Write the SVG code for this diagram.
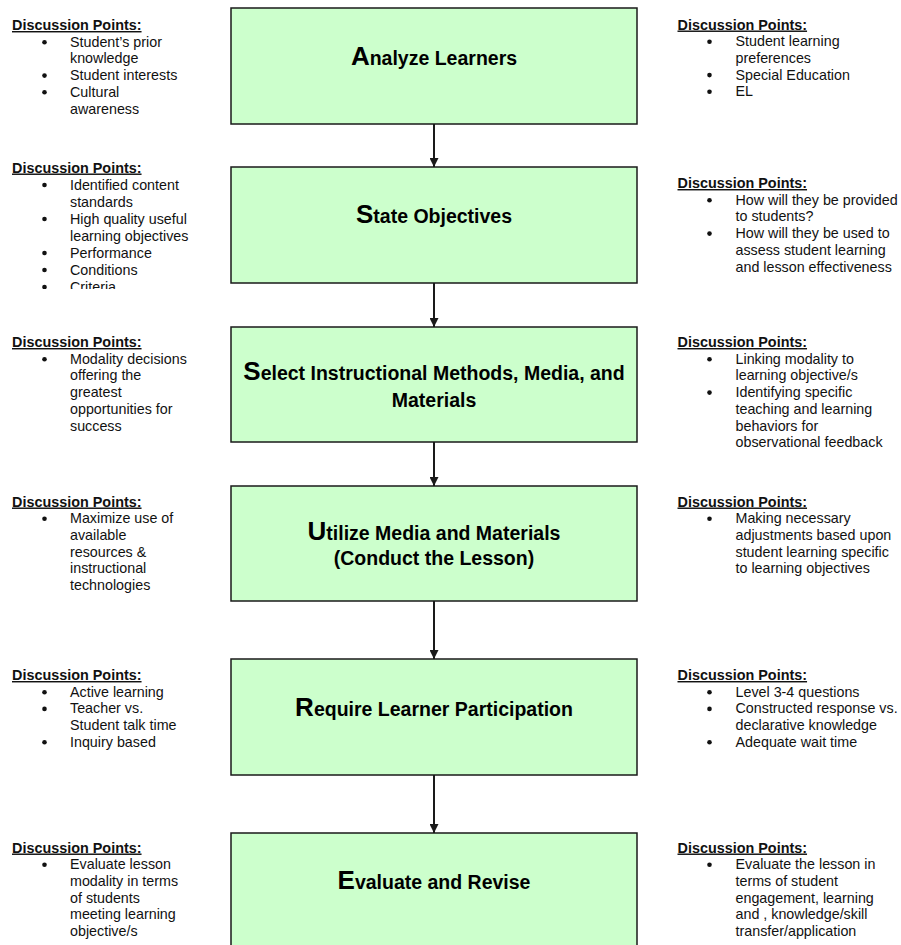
<svg xmlns="http://www.w3.org/2000/svg" width="901" height="945" viewBox="0 0 901 945">
<style>
.box{fill:#ccffcc;stroke:#1a1a1a;stroke-width:1.5}
.ti{font-family:"Liberation Sans",Arial,sans-serif;font-weight:bold;font-size:19.5px;fill:#000;text-anchor:middle}
.cap{font-size:26px}
.h{font-family:"Liberation Sans",Arial,sans-serif;font-weight:bold;font-size:14.4px;fill:#111;text-decoration:underline}
.t{font-family:"Liberation Sans",Arial,sans-serif;font-size:14.3px;fill:#111}
.b{fill:#111}
.conn line{stroke:#1a1a1a;stroke-width:2}
</style>
<defs>
<marker id="ah" markerWidth="9" markerHeight="9" refX="9" refY="4.5" orient="auto" markerUnits="userSpaceOnUse">
<path d="M0,0 L9,4.5 L0,9 Z" fill="#1a1a1a"/>
</marker>
<clipPath id="clipL2"><rect x="0" y="150" width="230" height="139"/></clipPath>
</defs>
<rect x="0" y="0" width="901" height="945" fill="#fff"/>

<g id="connectors" class="conn">
<line x1="434" y1="124" x2="434" y2="167" marker-end="url(#ah)"/>
<line x1="434" y1="283" x2="434" y2="327" marker-end="url(#ah)"/>
<line x1="434" y1="442" x2="434" y2="486" marker-end="url(#ah)"/>
<line x1="434" y1="601" x2="434" y2="659" marker-end="url(#ah)"/>
<line x1="434" y1="775" x2="434" y2="833" marker-end="url(#ah)"/>
</g>

<g id="node-analyze">
<rect class="box" x="231" y="8" width="406" height="116"/>
<text class="ti" x="434" y="65"><tspan class="cap">A</tspan>nalyze Learners</text>
</g>
<g id="node-state">
<rect class="box" x="231" y="167" width="406" height="116"/>
<text class="ti" x="434" y="223"><tspan class="cap">S</tspan>tate Objectives</text>
</g>
<g id="node-select">
<rect class="box" x="231" y="327" width="406" height="115"/>
<text class="ti" x="434" y="380"><tspan class="cap">S</tspan>elect Instructional Methods, Media, and</text>
<text class="ti" x="434" y="406.5">Materials</text>
</g>
<g id="node-utilize">
<rect class="box" x="231" y="486" width="406" height="115"/>
<text class="ti" x="434" y="540"><tspan class="cap">U</tspan>tilize Media and Materials</text>
<text class="ti" x="434" y="565">(Conduct the Lesson)</text>
</g>
<g id="node-require">
<rect class="box" x="231" y="659" width="406" height="116"/>
<text class="ti" x="434" y="716"><tspan class="cap">R</tspan>equire Learner Participation</text>
</g>
<g id="node-evaluate">
<rect class="box" x="231" y="833" width="406" height="120"/>
<text class="ti" x="434" y="889"><tspan class="cap">E</tspan>valuate and Revise</text>
</g>

<g id="notes-left-1">
<text class="h" x="12" y="30">Discussion Points:</text>
<circle class="b" cx="44.5" cy="42.2" r="2.3"/><text class="t" x="70" y="46.7">Student’s prior</text>
<text class="t" x="70" y="63.4">knowledge</text>
<circle class="b" cx="44.5" cy="75.6" r="2.3"/><text class="t" x="70" y="80.1">Student interests</text>
<circle class="b" cx="44.5" cy="92.3" r="2.3"/><text class="t" x="70" y="96.8">Cultural</text>
<text class="t" x="70" y="113.5">awareness</text>
</g>
<g id="notes-right-1">
<text class="h" x="677.5" y="29.5">Discussion Points:</text>
<circle class="b" cx="709.5" cy="41.7" r="2.3"/><text class="t" x="735.5" y="46.2">Student learning</text>
<text class="t" x="735.5" y="62.9">preferences</text>
<circle class="b" cx="709.5" cy="75.1" r="2.3"/><text class="t" x="735.5" y="79.6">Special Education</text>
<circle class="b" cx="709.5" cy="91.8" r="2.3"/><text class="t" x="735.5" y="96.3">EL</text>
</g>

<g id="notes-left-2" clip-path="url(#clipL2)">
<text class="h" x="12" y="172.5">Discussion Points:</text>
<circle class="b" cx="44.5" cy="185" r="2.3"/><text class="t" x="70" y="189.5">Identified content</text>
<text class="t" x="70" y="206.5">standards</text>
<circle class="b" cx="44.5" cy="219" r="2.3"/><text class="t" x="70" y="223.5">High quality useful</text>
<text class="t" x="70" y="240.5">learning objectives</text>
<circle class="b" cx="44.5" cy="253" r="2.3"/><text class="t" x="70" y="257.5">Performance</text>
<circle class="b" cx="44.5" cy="270" r="2.3"/><text class="t" x="70" y="274.5">Conditions</text>
<circle class="b" cx="44.5" cy="287" r="2.3"/><text class="t" x="70" y="291.5">Criteria</text>
</g>
<g id="notes-right-2">
<text class="h" x="677.5" y="188">Discussion Points:</text>
<circle class="b" cx="709.5" cy="200.2" r="2.3"/><text class="t" x="735.5" y="204.7">How will they be provided</text>
<text class="t" x="735.5" y="221.4">to students?</text>
<circle class="b" cx="709.5" cy="233.6" r="2.3"/><text class="t" x="735.5" y="238.1">How will they be used to</text>
<text class="t" x="735.5" y="254.8">assess student learning</text>
<text class="t" x="735.5" y="271.5">and lesson effectiveness</text>
</g>

<g id="notes-left-3">
<text class="h" x="12" y="347">Discussion Points:</text>
<circle class="b" cx="44.5" cy="359.2" r="2.3"/><text class="t" x="70" y="363.7">Modality decisions</text>
<text class="t" x="70" y="380.4">offering the</text>
<text class="t" x="70" y="397.1">greatest</text>
<text class="t" x="70" y="413.8">opportunities for</text>
<text class="t" x="70" y="430.5">success</text>
</g>
<g id="notes-right-3">
<text class="h" x="677.5" y="347">Discussion Points:</text>
<circle class="b" cx="709.5" cy="359.2" r="2.3"/><text class="t" x="735.5" y="363.7">Linking modality to</text>
<text class="t" x="735.5" y="380.4">learning objective/s</text>
<circle class="b" cx="709.5" cy="392.6" r="2.3"/><text class="t" x="735.5" y="397.1">Identifying specific</text>
<text class="t" x="735.5" y="413.8">teaching and learning</text>
<text class="t" x="735.5" y="430.5">behaviors for</text>
<text class="t" x="735.5" y="447.2">observational feedback</text>
</g>

<g id="notes-left-4">
<text class="h" x="12" y="506.5">Discussion Points:</text>
<circle class="b" cx="44.5" cy="518.7" r="2.3"/><text class="t" x="70" y="523.2">Maximize use of</text>
<text class="t" x="70" y="539.9">available</text>
<text class="t" x="70" y="556.6">resources &amp;</text>
<text class="t" x="70" y="573.3">instructional</text>
<text class="t" x="70" y="590">technologies</text>
</g>
<g id="notes-right-4">
<text class="h" x="677.5" y="506.5">Discussion Points:</text>
<circle class="b" cx="709.5" cy="518.7" r="2.3"/><text class="t" x="735.5" y="523.2">Making necessary</text>
<text class="t" x="735.5" y="539.9">adjustments based upon</text>
<text class="t" x="735.5" y="556.6">student learning specific</text>
<text class="t" x="735.5" y="573.3">to learning objectives</text>
</g>

<g id="notes-left-5">
<text class="h" x="12" y="680">Discussion Points:</text>
<circle class="b" cx="44.5" cy="692.2" r="2.3"/><text class="t" x="70" y="696.7">Active learning</text>
<circle class="b" cx="44.5" cy="708.9" r="2.3"/><text class="t" x="70" y="713.4">Teacher vs.</text>
<text class="t" x="70" y="730.1">Student talk time</text>
<circle class="b" cx="44.5" cy="742.3" r="2.3"/><text class="t" x="70" y="746.8">Inquiry based</text>
</g>
<g id="notes-right-5">
<text class="h" x="677.5" y="680">Discussion Points:</text>
<circle class="b" cx="709.5" cy="692.2" r="2.3"/><text class="t" x="735.5" y="696.7">Level 3-4 questions</text>
<circle class="b" cx="709.5" cy="708.9" r="2.3"/><text class="t" x="735.5" y="713.4">Constructed response vs.</text>
<text class="t" x="735.5" y="730.1">declarative knowledge</text>
<circle class="b" cx="709.5" cy="742.3" r="2.3"/><text class="t" x="735.5" y="746.8">Adequate wait time</text>
</g>

<g id="notes-left-6">
<text class="h" x="12" y="852.5">Discussion Points:</text>
<circle class="b" cx="44.5" cy="864.7" r="2.3"/><text class="t" x="70" y="869.2">Evaluate lesson</text>
<text class="t" x="70" y="885.9">modality in terms</text>
<text class="t" x="70" y="902.6">of students</text>
<text class="t" x="70" y="919.3">meeting learning</text>
<text class="t" x="70" y="936">objective/s</text>
</g>
<g id="notes-right-6">
<text class="h" x="677.5" y="852.5">Discussion Points:</text>
<circle class="b" cx="709.5" cy="864.7" r="2.3"/><text class="t" x="735.5" y="869.2">Evaluate the lesson in</text>
<text class="t" x="735.5" y="885.9">terms of student</text>
<text class="t" x="735.5" y="902.6">engagement, learning</text>
<text class="t" x="735.5" y="919.3">and , knowledge/skill</text>
<text class="t" x="735.5" y="936">transfer/application</text>
</g>
</svg>
